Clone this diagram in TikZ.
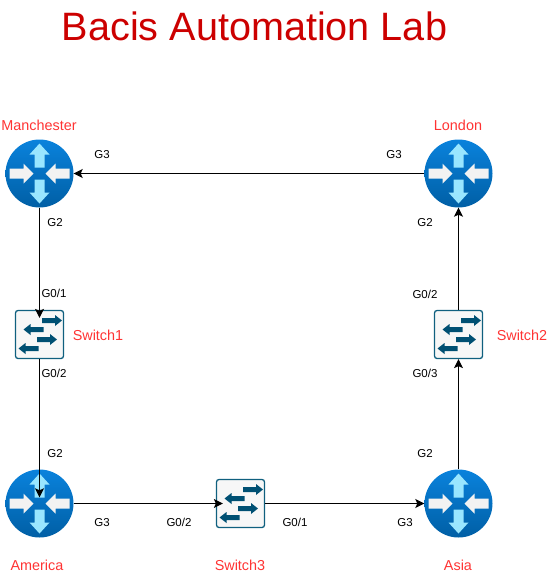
\documentclass[tikz,border=0pt]{standalone}
\usepackage{fontspec}
\setmainfont{Liberation Sans}
\usetikzlibrary{arrows.meta}
\definecolor{labelred}{HTML}{FF3333}
\definecolor{titlered}{HTML}{CC0000}
\definecolor{routertop}{HTML}{0A82DC}
\definecolor{routerbot}{HTML}{005FA5}
\definecolor{sky}{HTML}{99E6FF}
\definecolor{pale}{HTML}{F2F2F2}
\definecolor{swline}{HTML}{10607F}
\definecolor{swarrow}{HTML}{005073}
\tikzset{
	routerbox/.style={circle,inner sep=0,minimum size=68pt,top color=routertop,bottom color=routerbot},
	switchbox/.style={draw=swline,line width=1.3pt,rounded corners=2.5pt,fill=white!97!black,inner sep=0,minimum size=48pt},
	link/.style={draw=black,line width=1pt,-{Stealth[length=9pt,width=9pt,inset=2pt]}},
	sitelabel/.style={text=labelred,font=\fontsize{14.4}{17}\selectfont,inner sep=0},
	portlabel/.style={text=black,font=\fontsize{11.5}{14}\selectfont,inner sep=0}
}
\begin{document}
\begin{tikzpicture}[x=1pt,y=-1pt]
\useasboundingbox (0,0) rectangle (552,579);

%Titel
\node[text=titlered,font=\fontsize{39.6}{48}\selectfont,inner sep=0] (title) at (254.5,26) {Bacis Automation Lab};

%Router
\foreach \n/\x/\y in
{
manchester/39.5/173.5,
london/458.5/173.5,
america/39.5/503.5,
asia/458.5/503.5
}
{
	\node[routerbox] (\n) at (\x,\y) {};
	\fill[sky] (\x,\y-30) -- ++(10,11) -- ++(-5,0) -- ++(0,13) -- ++(-10,0) -- ++(0,-13) -- ++(-5,0) -- cycle;
	\fill[sky] (\x,\y+30) -- ++(10,-11) -- ++(-5,0) -- ++(0,-13) -- ++(-10,0) -- ++(0,13) -- ++(-5,0) -- cycle;
	\fill[pale] (\x-6,\y) -- ++(-10,-10) -- ++(0,5) -- ++(-14,0) -- ++(0,10) -- ++(14,0) -- ++(0,5) -- cycle;
	\fill[pale] (\x+6,\y) -- ++(10,-10) -- ++(0,5) -- ++(14,0) -- ++(0,10) -- ++(-14,0) -- ++(0,5) -- cycle;
}

%Switche
\foreach \n/\x/\y in
{
switch1/39.5/334.5,
switch2/458.5/334.5,
switch3/240.5/503.5
}
{
	\node[switchbox] (\n) at (\x,\y) {};
	\foreach \a/\b in {2.5/-14,-2.5/5}
	{
		\fill[swarrow] (\x+\a,\y+\b-2.5) -- ++(13,0) -- ++(0,-3) -- ++(7,5.5) -- ++(-7,5.5) -- ++(0,-3) -- ++(-13,0) -- cycle;
	}
	\foreach \a/\b in {4/-5,-1/14}
	{
		\fill[swarrow] (\x+\a,\y+\b-2.5) -- ++(-13,0) -- ++(0,-3) -- ++(-7,5.5) -- ++(7,5.5) -- ++(0,-3) -- ++(13,0) -- cycle;
	}
}

%Verbindungen
\draw[link] (london) -- (manchester);
\draw[link,shorten >=-8pt] (manchester) -- (switch1);
\draw[link,shorten >=-28pt] (switch1) -- (america);
\draw[link,shorten >=-7pt] (america) -- (switch3);
\draw[link] (switch3) -- (asia);
\draw[link] (asia) -- (switch2);
\draw[link] (switch2) -- (london);

%Namen
\foreach \n/\x/\y/\t in
{
nameman/39/125/Manchester,
namelon/458/125/London,
namesw1/98/335/Switch1,
namesw2/522/335/Switch2,
nameame/37/565/America,
namesw3/240/565/Switch3,
nameasi/458/565/Asia
}
{
	\node[sitelabel] (\n) at (\x,\y) {\t};
}

%Ports
\foreach \n/\x/\y/\t in
{
p1/102/154.5/G3,
p2/394/154.5/G3,
p3/55/222.5/G2,
p4/425/222.5/G2,
p5/54/293.5/G0\slash 1,
p6/425/294/G0\slash 2,
p7/54/373.5/G0\slash 2,
p8/425/373.5/G0\slash 3,
p9/55/453.5/G2,
p10/425/453.5/G2,
p11/102/522.5/G3,
p12/179/522.5/G0\slash 2,
p13/295/522.5/G0\slash 1,
p14/405/522.5/G3
}
{
	\node[portlabel] (\n) at (\x,\y) {\t};
}

\end{tikzpicture}
\end{document}
